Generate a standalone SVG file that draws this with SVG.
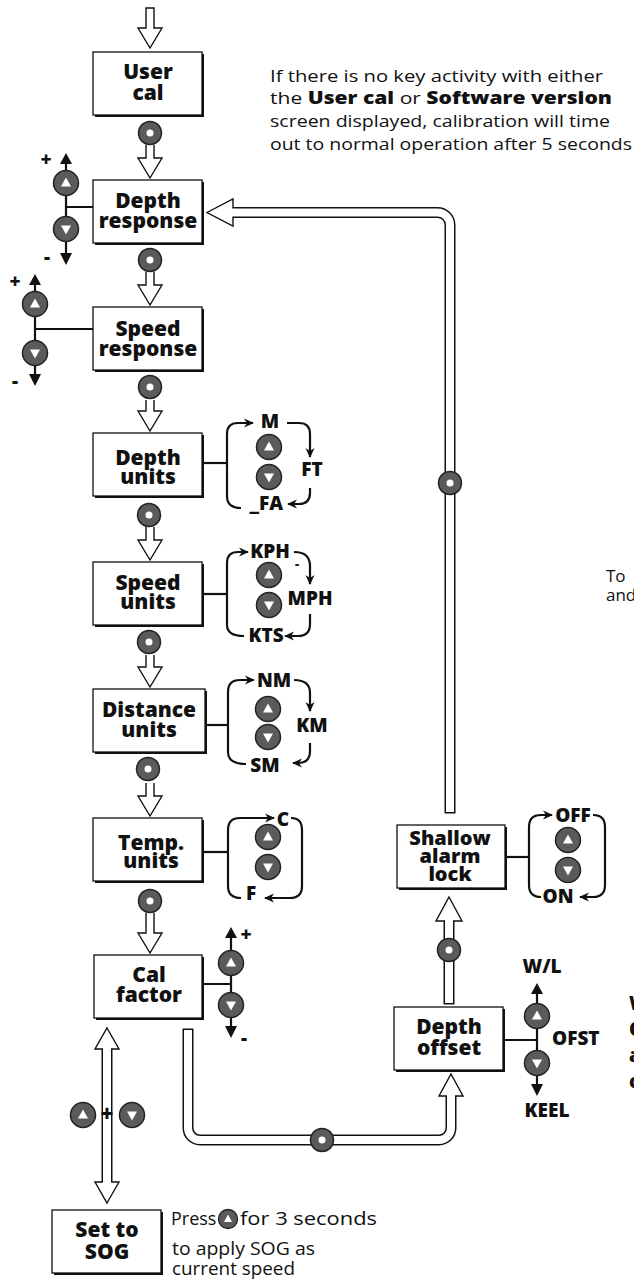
<svg xmlns="http://www.w3.org/2000/svg" xmlns:xlink="http://www.w3.org/1999/xlink" width="634" height="1279" viewBox="0 0 634 1279">
<style>
.bx{fill:#fff;stroke:#111;stroke-width:1.3}
.sh{fill:#111}
.t{font-family:'Open Sans','Liberation Sans',sans-serif;font-weight:800;font-size:21px;text-anchor:middle;fill:#111}
.lb{font-family:'Open Sans','Liberation Sans',sans-serif;font-weight:800;font-size:19px;text-anchor:middle;fill:#111}
.n{font-family:'Open Sans','Liberation Sans',sans-serif;font-weight:400;font-size:17px;fill:#111}
.nb{font-weight:800}
.ln{fill:none;stroke:#111;stroke-width:2.2}
.sel{fill:none;stroke:#111;stroke-width:2.2;marker-end:url(#ah)}
.fa{fill:#fff;stroke:#111;stroke-width:1.4;stroke-linejoin:miter}
.pb{fill:none;stroke:#111;stroke-width:11}
.pw{fill:none;stroke:#fff;stroke-width:8}
.tri{fill:#111}
</style>
<defs>
<marker id="ah" markerUnits="userSpaceOnUse" markerWidth="10" markerHeight="10" viewBox="0 0 10 10" refX="9" refY="5" orient="auto">
<path d="M0,0.5 L10,5 L0,9.5 L3,5 Z" fill="#111"/>
</marker>
<g id="bUp"><circle r="12.5" fill="#5b5b5d" stroke="#222" stroke-width="1.5"/><path d="M0,-5.5 L5,3.5 L-5,3.5 Z" fill="#fff"/></g>
<g id="bDn"><circle r="12.5" fill="#5b5b5d" stroke="#222" stroke-width="1.5"/><path d="M0,5.5 L5,-3.5 L-5,-3.5 Z" fill="#fff"/></g>
<g id="bOk"><circle r="11.5" fill="#5b5b5d" stroke="#222" stroke-width="1.5"/><circle r="3.5" fill="#fff"/></g>
<g id="bUpS"><circle r="9.5" fill="#5b5b5d" stroke="#222" stroke-width="1.3"/><path d="M0,-4.5 L4,3 L-4,3 Z" fill="#fff"/></g>
</defs>

<g id="connectors">
<path class="fa" d="M146,8 V28 H138 L150,48 L162,28 H154 V8 Z"/>
<path class="fa" d="M146,145 V158 H138 L150,178 L162,158 H154 V145"/>
<path class="fa" d="M146,272 V285 H138 L150,305 L162,285 H154 V272"/>
<path class="fa" d="M146,400 V411 H138 L150,431 L162,411 H154 V400"/>
<path class="fa" d="M146,527 V540 H138 L150,560 L162,540 H154 V527"/>
<path class="fa" d="M146,655 V667 H138 L150,687 L162,667 H154 V655"/>
<path class="fa" d="M146,783 V796 H138 L150,816 L162,796 H154 V783"/>
<path class="fa" d="M146,913 V933 H138 L150,953 L162,933 H154 V913"/>
<use xlink:href="#bOk" x="150" y="133"/>
<use xlink:href="#bOk" x="150" y="260"/>
<use xlink:href="#bOk" x="150" y="387"/>
<use xlink:href="#bOk" x="149" y="515"/>
<use xlink:href="#bOk" x="149" y="642"/>
<use xlink:href="#bOk" x="148" y="769"/>
<use xlink:href="#bOk" x="150" y="901"/>

<path class="pb" d="M450,813.5 V225 A12.5,12.5 0 0 0 437.5,212.5 H228"/>
<polygon class="fa" points="207,212.5 233,199 233,226"/>
<path class="pw" d="M450,812 V225 A12.5,12.5 0 0 0 437.5,212.5 H225"/>
<use xlink:href="#bOk" x="450" y="483"/>

<path class="pb" d="M449,1004.5 V918"/>
<polygon class="fa" points="449,897 462,921 436,921"/>
<path class="pw" d="M449,1003 V914"/>
<use xlink:href="#bOk" x="449" y="950"/>

<path class="pb" d="M188,1028.5 V1128 A12,12 0 0 0 200,1140 H439 A12,12 0 0 0 451,1128 V1092"/>
<polygon class="fa" points="451,1074 463,1096 439,1096"/>
<path class="pw" d="M188,1030 V1128 A12,12 0 0 0 200,1140 H439 A12,12 0 0 0 451,1128 V1090"/>
<use xlink:href="#bOk" x="322" y="1140"/>

<path class="pb" d="M107,1044 V1187"/>
<polygon class="fa" points="107,1028 119,1049 95,1049"/>
<polygon class="fa" points="107,1203 119,1182 95,1182"/>
<path class="pw" d="M107,1041 V1190"/>
<use xlink:href="#bUp" x="83" y="1115"/>
<use xlink:href="#bDn" x="132" y="1115"/>
<text class="t" x="107" y="1122" style="font-size:22px">+</text>
</g>

<g id="note">
<text class="n" x="270" y="82" textLength="333" lengthAdjust="spacingAndGlyphs">If there is no key activity with either</text>
<text class="n" x="270" y="104" textLength="342" lengthAdjust="spacingAndGlyphs">the <tspan class="nb">User cal</tspan> or <tspan class="nb">Software version</tspan></text>
<text class="n" x="270" y="127" textLength="340" lengthAdjust="spacingAndGlyphs">screen displayed, calibration will time</text>
<text class="n" x="270" y="150" textLength="362" lengthAdjust="spacingAndGlyphs">out to normal operation after 5 seconds</text>
</g>

<g id="user-cal">
<rect class="sh" x="95" y="54" width="109" height="63"/>
<rect class="bx" x="93" y="52" width="109" height="63"/>
<text class="t" x="148" y="79">User</text>
<text class="t" x="148" y="100">cal</text>
</g>

<g id="depth-response">
<rect class="sh" x="95" y="182" width="109" height="63"/>
<rect class="bx" x="93" y="180" width="109" height="63"/>
<text class="t" x="148" y="208">Depth</text>
<text class="t" x="148" y="228">response</text>
<path class="ln" d="M66,195 V219 M66,207 H93"/>
<polygon class="tri" points="66,153 72,164 60,164"/>
<path class="ln" d="M66,163 V171 M66,241 V254"/>
<polygon class="tri" points="66,265 72,253 60,253"/>
<use xlink:href="#bUp" x="66" y="183"/>
<use xlink:href="#bDn" x="66" y="229"/>
<text class="lb" x="46" y="166">+</text>
<text class="lb" x="47" y="264">-</text>
</g>

<g id="speed-response">
<rect class="sh" x="95" y="309" width="109" height="63"/>
<rect class="bx" x="93" y="307" width="109" height="63"/>
<text class="t" x="148" y="336">Speed</text>
<text class="t" x="148" y="356">response</text>
<path class="ln" d="M35,316 V341 M35,329 H93"/>
<polygon class="tri" points="35,274 41,285 29,285"/>
<path class="ln" d="M35,284 V292 M35,365 V374"/>
<polygon class="tri" points="35,386 41,374 29,374"/>
<use xlink:href="#bUp" x="35" y="304"/>
<use xlink:href="#bDn" x="35" y="353"/>
<text class="lb" x="15" y="288">+</text>
<text class="lb" x="15" y="388">-</text>
</g>

<g id="depth-units">
<rect class="sh" x="95" y="435" width="109" height="63"/>
<rect class="bx" x="93" y="433" width="109" height="63"/>
<text class="t" x="148" y="465">Depth</text>
<text class="t" x="148" y="484">units</text>
<path class="ln" d="M203,463 H227"/>
<path class="sel" d="M241,508 Q227,508 227,496 V434 Q227,423 238,423 H253"/>
<path class="sel" d="M287,423 H299 Q310,423 310,434 V457"/>
<path class="sel" d="M310,488 V493 Q310,504 299,504 H288"/>
<text class="lb" x="270" y="428">M</text>
<text class="lb" x="312" y="476">FT</text>
<text class="lb" x="283" y="510" style="text-anchor:end">_FA</text>
<use xlink:href="#bUp" x="269" y="447"/>
<use xlink:href="#bDn" x="269" y="477"/>
</g>

<g id="speed-units">
<rect class="sh" x="95" y="564" width="109" height="63"/>
<rect class="bx" x="93" y="562" width="109" height="63"/>
<text class="t" x="148" y="590">Speed</text>
<text class="t" x="148" y="609">units</text>
<path class="ln" d="M203,594 H227"/>
<path class="sel" d="M244,636 Q227,636 227,625 V563 Q227,552 238,552 H248"/>
<path class="sel" d="M294,552 Q310,552 310,566 V584"/>
<path class="sel" d="M310,614 V624 Q310,636 298,636 H285"/>
<text class="lb" x="270" y="558">KPH</text>
<text class="lb" x="297" y="568" style="font-size:13px">-</text>
<text class="lb" x="310" y="605">MPH</text>
<text class="lb" x="266" y="642">KTS</text>
<use xlink:href="#bUp" x="269" y="575"/>
<use xlink:href="#bDn" x="269" y="605"/>
</g>

<g id="distance-units">
<rect class="sh" x="95" y="691" width="112" height="63"/>
<rect class="bx" x="93" y="689" width="112" height="63"/>
<text class="t" x="149" y="717">Distance</text>
<text class="t" x="149" y="737">units</text>
<path class="ln" d="M205,725 H228"/>
<path class="sel" d="M246,764 Q228,764 228,752 V692 Q228,680 240,680 H254"/>
<path class="sel" d="M294,680 Q310,680 310,693 V711"/>
<path class="sel" d="M310,743 V751 Q310,763 298,763 H293"/>
<text class="lb" x="274" y="687">NM</text>
<text class="lb" x="312" y="732">KM</text>
<text class="lb" x="265" y="772">SM</text>
<use xlink:href="#bUp" x="268" y="709"/>
<use xlink:href="#bDn" x="268" y="737"/>
</g>

<g id="temp-units">
<rect class="sh" x="95" y="820" width="109" height="63"/>
<rect class="bx" x="93" y="818" width="109" height="63"/>
<text class="t" x="151" y="850">Temp.</text>
<text class="t" x="151" y="868">units</text>
<path class="ln" d="M203,852 H228"/>
<path class="sel" d="M241,898 Q228,898 228,886 V830 Q228,818 240,818 H274"/>
<path class="sel" d="M291,818 Q302,818 302,830 V886 Q302,898 290,898 H265"/>
<text class="lb" x="283" y="826">C</text>
<text class="lb" x="251" y="900">F</text>
<use xlink:href="#bUp" x="268" y="837"/>
<use xlink:href="#bDn" x="268" y="867"/>
</g>

<g id="cal-factor">
<rect class="sh" x="96" y="957" width="108" height="63"/>
<rect class="bx" x="94" y="955" width="108" height="63"/>
<text class="t" x="149" y="982">Cal</text>
<text class="t" x="149" y="1002">factor</text>
<path class="ln" d="M202,984 H231 M231,975 V993"/>
<polygon class="tri" points="231,927 237,938 225,938"/>
<path class="ln" d="M231,937 V951 M231,1017 V1026"/>
<polygon class="tri" points="231,1038 237,1026 225,1026"/>
<use xlink:href="#bUp" x="231" y="963"/>
<use xlink:href="#bDn" x="231" y="1005"/>
<text class="lb" x="246" y="941">+</text>
<text class="lb" x="244" y="1045">-</text>
</g>

<g id="set-to-sog">
<rect class="sh" x="54" y="1212" width="109" height="63"/>
<rect class="bx" x="52" y="1210" width="109" height="63"/>
<text class="t" x="107" y="1237">Set to</text>
<text class="t" x="107" y="1259">SOG</text>
<text class="n" x="171" y="1225" style="font-size:18px">Press</text>
<use xlink:href="#bUpS" x="228" y="1219"/>
<text class="n" x="240" y="1225" style="font-size:18px" textLength="137" lengthAdjust="spacingAndGlyphs">for 3 seconds</text>
<text class="n" x="172" y="1255" style="font-size:18px" textLength="143" lengthAdjust="spacingAndGlyphs">to apply SOG as</text>
<text class="n" x="172" y="1275" style="font-size:18px" textLength="123" lengthAdjust="spacingAndGlyphs">current speed</text>
</g>

<g id="shallow-alarm-lock">
<rect class="sh" x="399" y="827" width="108" height="63"/>
<rect class="bx" x="397" y="825" width="108" height="63"/>
<text class="t" x="450" y="845" style="font-size:20px">Shallow</text>
<text class="t" x="450" y="863" style="font-size:20px">alarm</text>
<text class="t" x="450" y="881" style="font-size:20px">lock</text>
<path class="ln" d="M505,857 H529"/>
<path class="sel" d="M541,897 Q529,897 529,885 V827 Q529,815 541,815 H552"/>
<path class="sel" d="M593,815 Q605,815 605,827 V885 Q605,897 593,897 H580"/>
<text class="lb" x="573" y="822">OFF</text>
<text class="lb" x="558" y="903">ON</text>
<use xlink:href="#bUp" x="568" y="840"/>
<use xlink:href="#bDn" x="568" y="870"/>
</g>

<g id="depth-offset">
<rect class="sh" x="396" y="1009" width="109" height="63"/>
<rect class="bx" x="394" y="1007" width="109" height="63"/>
<text class="t" x="449" y="1034">Depth</text>
<text class="t" x="449" y="1055">offset</text>
<path class="ln" d="M503,1040 H537 M537,1028 V1051"/>
<polygon class="tri" points="537,983 543,994 531,994"/>
<path class="ln" d="M537,993 V1004 M537,1075 V1084"/>
<polygon class="tri" points="537,1096 543,1084 531,1084"/>
<use xlink:href="#bUp" x="537" y="1016"/>
<use xlink:href="#bDn" x="537" y="1063"/>
<text class="lb" x="542" y="973">W/L</text>
<text class="lb" x="552" y="1045" style="text-anchor:start">OFST</text>
<text class="lb" x="547" y="1117">KEEL</text>
</g>

<g id="clipped-notes">
<text class="n" x="606" y="582">To</text>
<text class="n" x="606" y="601">and</text>
<text class="lb" x="629" y="1010" style="text-anchor:start">W</text>
<text class="lb" x="629" y="1036" style="text-anchor:start">O</text>
<text class="lb" x="629" y="1062" style="text-anchor:start">a</text>
<text class="lb" x="629" y="1088" style="text-anchor:start">c</text>
</g>
</svg>
